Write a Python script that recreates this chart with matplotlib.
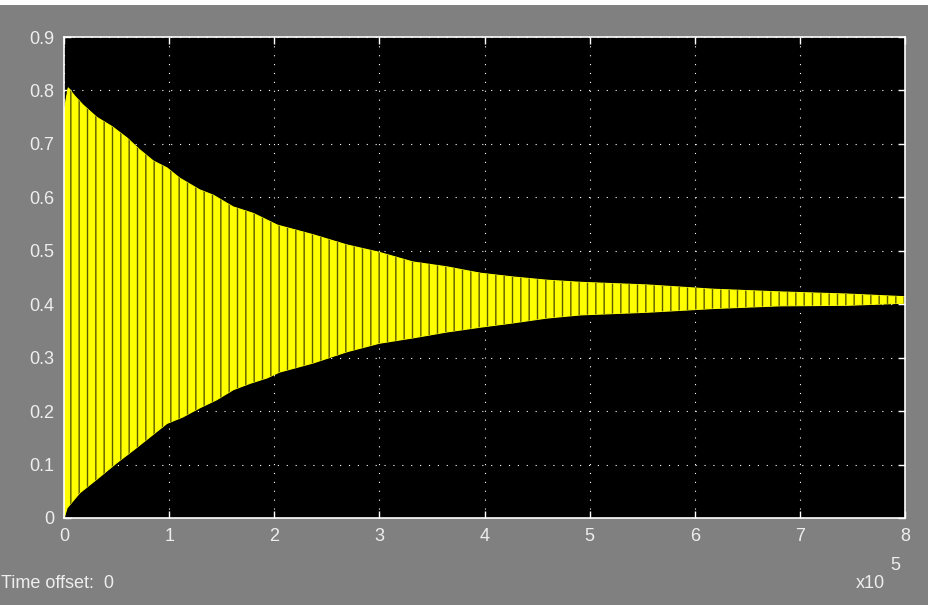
import numpy as np
import matplotlib.pyplot as plt
from matplotlib.patches import Rectangle

# envelope of the scope trace (time in units of 1e5)
t_upper = [0.0, 0.04, 0.10, 0.18, 0.31, 0.46, 0.60, 0.72, 0.85, 0.98, 1.10, 1.29,
           1.42, 1.61, 1.80, 2.03, 2.37, 2.69, 3.00, 3.32, 3.64, 3.96, 4.27, 4.59,
           4.91, 5.55, 6.18, 6.81, 7.45, 8.00]
upper = [0.76, 0.805, 0.79, 0.773, 0.75, 0.732, 0.711, 0.689, 0.668, 0.655, 0.636, 0.614,
         0.604, 0.582, 0.570, 0.548, 0.530, 0.511, 0.497, 0.479, 0.470, 0.458, 0.451, 0.445,
         0.441, 0.436, 0.428, 0.423, 0.419, 0.414]
t_lower = [0.0, 0.03, 0.15, 0.34, 0.50, 0.66, 0.82, 0.98, 1.13, 1.29, 1.45, 1.61,
           1.77, 1.93, 2.05, 2.37, 2.69, 3.00, 3.32, 3.64, 3.96, 4.27, 4.59, 4.91,
           5.55, 6.18, 6.81, 7.45, 8.00]
lower = [0.0, 0.019, 0.047, 0.077, 0.103, 0.127, 0.152, 0.177, 0.189, 0.206, 0.221, 0.240,
         0.252, 0.262, 0.273, 0.290, 0.311, 0.327, 0.337, 0.348, 0.357, 0.365, 0.374, 0.380,
         0.385, 0.392, 0.397, 0.398, 0.402]

x_ticks = [0, 1, 2, 3, 4, 5, 6, 7, 8]
y_ticks = [0, 0.1, 0.2, 0.3, 0.4, 0.5, 0.6, 0.7, 0.8, 0.9]

scale = 1e5
W, H = 929, 605
plt.rcParams['hatch.linewidth'] = 1.0
fig = plt.figure(figsize=(W / 100, H / 100), dpi=100)
fig.patch.set_facecolor('#808080')
fig.patches.append(Rectangle((0, 1 - 5 / H), 1, 5 / H, transform=fig.transFigure,
                             facecolor='white', edgecolor='none'))

ax = fig.add_axes([64 / W, 1 - 518 / H, (905 - 64) / W, (518 - 37) / H])
ax.set_facecolor('black')

tx = np.r_[t_upper, t_lower[::-1]] * scale
ty = np.r_[upper, lower[::-1]]
ax.fill(tx, ty, facecolor='#ffff00', edgecolor='#ffff00', lw=0.8, zorder=2)
# aliased stroke texture of the dense oscillation
ax.fill(tx, ty, facecolor='none', edgecolor='#5a5a00', hatch='||', lw=0, zorder=3)

ax.set_xlim(0, 8 * scale)
ax.set_ylim(0, 0.9)
ax.set_xticks([v * scale for v in x_ticks])
ax.set_xticklabels([str(v) for v in x_ticks])
ax.set_yticks(y_ticks)
ax.set_yticklabels(['0' if v == 0 else f'{v:.1f}' for v in y_ticks])

font = ['Liberation Sans', 'DejaVu Sans']
for lab in ax.get_xticklabels() + ax.get_yticklabels():
    lab.set_family(font)
    lab.set_fontsize(13)
    lab.set_color('#eeeeee')

ax.tick_params(direction='in', length=5, width=1, color='white',
               top=True, right=True, pad=7)
for s in ax.spines.values():
    s.set_color('white')
    s.set_linewidth(1.2)
    s.set_zorder(4)
ax.grid(True, color='white', linestyle=(0, (1, 7)), linewidth=0.8)
ax.set_axisbelow(True)

fig.text(1 / W, 1 - 588 / H, 'Time offset:  0', family=font, fontsize=13,
         color='#eeeeee', ha='left', va='baseline')
fig.text(856 / W, 1 - 588 / H, 'x10', family=font, fontsize=13,
         color='#eeeeee', ha='left', va='baseline')
fig.text(890 / W, 1 - 570 / H, '5', family=font, fontsize=13,
         color='#eeeeee', ha='left', va='baseline')

fig.savefig('out.png', dpi=100, facecolor=fig.get_facecolor())
